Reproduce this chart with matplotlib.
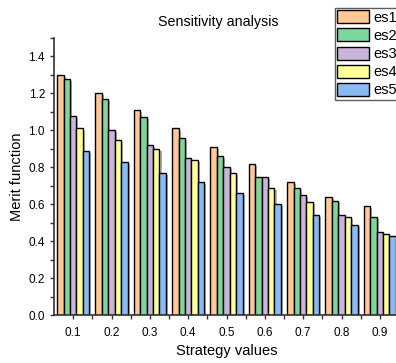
import matplotlib.pyplot as plt
import matplotlib.patheffects as pe
from matplotlib.ticker import MultipleLocator
import numpy as np

plt.rcParams['font.family'] = ['Liberation Sans', 'DejaVu Sans']

strategy = [0.1, 0.2, 0.3, 0.4, 0.5, 0.6, 0.7, 0.8, 0.9]
es1 = [1.30, 1.20, 1.11, 1.01, 0.91, 0.82, 0.72, 0.64, 0.59]
es2 = [1.28, 1.17, 1.07, 0.96, 0.86, 0.75, 0.69, 0.62, 0.53]
es3 = [1.08, 1.00, 0.92, 0.85, 0.80, 0.75, 0.65, 0.54, 0.45]
es4 = [1.01, 0.95, 0.90, 0.84, 0.77, 0.69, 0.61, 0.53, 0.44]
es5 = [0.89, 0.83, 0.77, 0.72, 0.66, 0.60, 0.54, 0.49, 0.43]
names = ['es1', 'es2', 'es3', 'es4', 'es5']
colors = ['#FFC896', '#7DD69B', '#C9B4DA', '#FFFF99', '#88BBF4']

fig = plt.figure(figsize=(3.96, 3.63), dpi=100)
ax = fig.add_axes([54/396, 1-315/363, 345/396, 277/363])

x = np.array(strategy)
w = 0.0167
shadow = [pe.SimplePatchShadow(offset=(1.5, -1.5), shadow_rgbFace='gray', alpha=0.6), pe.Normal()]
handles = []
for i, (vals, c) in enumerate(zip([es1, es2, es3, es4, es5], colors)):
    bars = ax.bar(x + (i - 2) * w, vals, width=w, color=c, edgecolor='black', linewidth=1.0, label=names[i])
    for b in bars:
        b.set_path_effects(shadow)
    handles.append(bars)

ax.set_xlim(0.05, 0.95)
ax.set_ylim(0, 1.5)
ax.set_xticks(strategy)
ax.set_xticklabels([str(s) for s in strategy])
ax.set_xticks(np.arange(0.15, 0.95, 0.1), minor=True)
ax.yaxis.set_major_locator(MultipleLocator(0.2))
ax.yaxis.set_minor_locator(MultipleLocator(0.1))
ax.tick_params(axis='both', which='both', direction='out', labelsize=8.5, length=3, width=1, color='#333333')
ax.tick_params(axis='x', pad=6)
for s in ['top', 'right']:
    ax.spines[s].set_visible(False)
for s in ['left', 'bottom']:
    ax.spines[s].set_linewidth(1.2)
    ax.spines[s].set_color('#333333')

ax.set_xlabel('Strategy values', fontsize=10.5, labelpad=3)
ax.set_ylabel('Merit function', fontsize=10.5, labelpad=3)
fig.text(218/396, 1-22/363, 'Sensitivity analysis', fontsize=10.3, ha='center', va='center')

leg = fig.legend(handles=handles, labels=names, loc='upper left', bbox_to_anchor=(335/396, 1-8/363),
                 fontsize=10.5, handlelength=2.2, handleheight=1.0, labelspacing=0.25,
                 handletextpad=0.3, borderpad=0.15, borderaxespad=0, fancybox=False,
                 frameon=True, edgecolor='#333333')
leg.get_frame().set_linewidth(1.0)
for h in leg.legend_handles:
    h.set_path_effects([])

fig.savefig('out.png', dpi=100)
